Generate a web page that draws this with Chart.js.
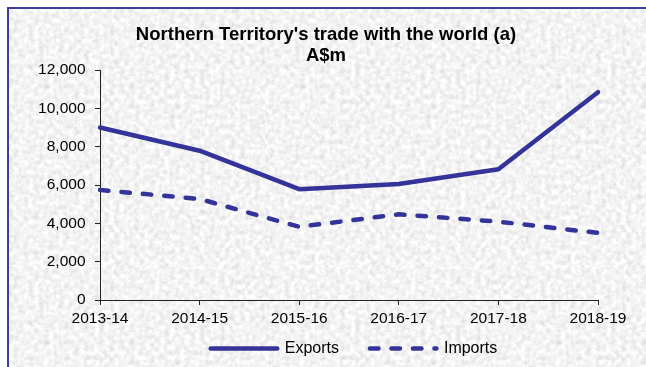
<!DOCTYPE html>
<html>
<head>
<meta charset="utf-8">
<title>Northern Territory's trade with the world</title>
<script src="https://cdn.jsdelivr.net/npm/chart.js@4/dist/chart.umd.min.js"></script>
<style>
  html, body { margin: 0; padding: 0; background: #fff; overflow: hidden; }
  #frame {
    position: absolute; left: 7px; top: 7px; width: 660px; height: 380px;
    border-top: 2px solid #3d3d9e; border-left: 2px solid #3d3d9e;
    background-color: #e6e6e6;
    /* granite-style fill */
    background-image: url("data:image/svg+xml,<svg xmlns='http://www.w3.org/2000/svg' width='256' height='256'><filter id='g'><feTurbulence type='fractalNoise' baseFrequency='0.2' numOctaves='4' seed='7' stitchTiles='stitch'/><feColorMatrix type='saturate' values='0'/><feComponentTransfer><feFuncR type='linear' slope='0.6' intercept='0.6'/><feFuncG type='linear' slope='0.6' intercept='0.6'/><feFuncB type='linear' slope='0.6' intercept='0.6'/><feFuncA type='linear' slope='0' intercept='1'/></feComponentTransfer></filter><rect width='100%' height='100%' filter='url(%23g)'/></svg>");
  }
  #chart { position: absolute; left: 0; top: 0; }
</style>
</head>
<body>
<div id="frame"></div>
<canvas id="chart" width="646" height="367"></canvas>
<script>
const years = ['2013-14', '2014-15', '2015-16', '2016-17', '2017-18', '2018-19'];
const exportsAud = [9000, 7790, 5780, 6050, 6820, 10840];
const importsAud = [5740, 5270, 3820, 4470, 4090, 3500];

const Y_MIN = 0;
const Y_MAX = 12000;
const Y_STEP = 2000;

const NAVY = '#333399';
const FONT = "'Liberation Sans', Arial, sans-serif";

Chart.defaults.font.family = FONT;
Chart.defaults.color = '#000';

const axisLine = { display: true, color: '#222', width: 1 };
const tickMarks = { display: true, drawOnChartArea: false, drawTicks: true, tickLength: 5, color: '#222' };

// Legend row: a stroke sample for each dataset (same width, dash and caps) and its label
const lineLegend = {
  id: 'lineLegend',
  afterDraw(chart, args, opts) {
    const { ctx } = chart;
    ctx.save();
    ctx.font = `${opts.fontSize}px ${FONT}`;
    ctx.textBaseline = 'middle';
    ctx.textAlign = 'left';
    const items = chart.data.datasets.map((ds) => ({ ds, w: ctx.measureText(ds.label).width }));
    const total = items.reduce((sum, it) => sum + opts.sampleWidth + opts.textGap + it.w, 0)
      + opts.itemGap * (items.length - 1);
    let x = opts.centerX - total / 2;
    items.forEach(({ ds, w }) => {
      ctx.strokeStyle = ds.borderColor;
      ctx.lineWidth = ds.borderWidth;
      ctx.lineCap = ds.borderCapStyle;
      ctx.setLineDash(ds.borderDash || []);
      ctx.beginPath();
      ctx.moveTo(x, opts.y);
      ctx.lineTo(x + opts.sampleWidth, opts.y);
      ctx.stroke();
      ctx.setLineDash([]);
      ctx.fillStyle = '#000';
      ctx.fillText(ds.label, x + opts.sampleWidth + opts.textGap, opts.y);
      x += opts.sampleWidth + opts.textGap + w + opts.itemGap;
    });
    ctx.restore();
  },
};

new Chart(document.getElementById('chart'), {
  type: 'line',
  data: {
    labels: years,
    datasets: [
      {
        label: 'Exports',
        data: exportsAud,
        borderColor: NAVY,
        backgroundColor: NAVY,
        borderWidth: 4.5,
        borderCapStyle: 'round',
        borderJoinStyle: 'round',
        pointRadius: 0,
        tension: 0,
        fill: false,
      },
      {
        label: 'Imports',
        data: importsAud,
        borderColor: NAVY,
        backgroundColor: NAVY,
        borderWidth: 4.5,
        borderDash: [8.5, 13],
        borderCapStyle: 'round',
        borderJoinStyle: 'round',
        pointRadius: 0,
        tension: 0,
        fill: false,
      },
    ],
  },
  plugins: [lineLegend],
  options: {
    responsive: false,
    animation: false,
    layout: { padding: { left: 6, right: 0, top: 0, bottom: 37 } },
    plugins: {
      title: {
        display: true,
        text: ["Northern Territory's trade with the world (a)", 'A$m'],
        color: '#000',
        font: { size: 18.5, weight: 'bold', lineHeight: 21 / 18.5 },
        padding: { top: 24.5, bottom: 3.5 },
      },
      legend: { display: false },
      tooltip: { enabled: false },
      lineLegend: { y: 348.5, centerX: 354, sampleWidth: 66.5, textGap: 7.5, itemGap: 31, fontSize: 16 },
    },
    scales: {
      x: {
        grid: tickMarks,
        border: axisLine,
        ticks: { color: '#000', font: { size: 15.5 }, padding: 4.2, maxRotation: 0, autoSkip: false },
        afterFit(scale) { scale.height = 30; },
      },
      y: {
        min: Y_MIN,
        max: Y_MAX,
        grid: tickMarks,
        border: axisLine,
        ticks: { stepSize: Y_STEP, color: '#000', font: { size: 15.5 }, padding: 9.5 },
        afterFit(scale) { scale.width = 94; },
      },
      // empty right-hand margin so the plot ends short of the frame
      yRight: {
        position: 'right',
        display: true,
        grid: { display: false },
        border: { display: false },
        ticks: { display: false },
        afterFit(scale) { scale.width = 48; },
      },
    },
  },
});
</script>
</body>
</html>
